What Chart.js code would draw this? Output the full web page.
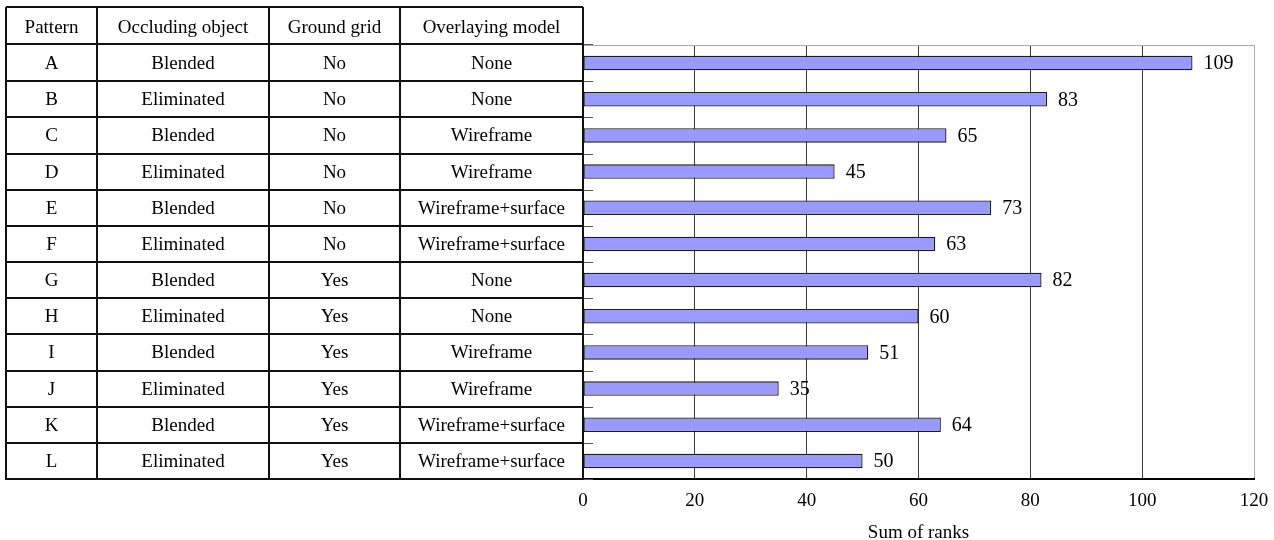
<!DOCTYPE html>
<html>
<head>
<meta charset="utf-8">
<script src="https://cdn.jsdelivr.net/npm/chart.js@4.4.0/dist/chart.umd.min.js"></script>
<style>
body { margin: 0; background: #fff; }
#wrap { width: 1274px; height: 540px; }
</style>
</head>
<body>
<div id="wrap"><canvas id="ranks" width="1274" height="540"></canvas></div>
<script>
// table columns
const headers = ['Pattern', 'Occluding object', 'Ground grid', 'Overlaying model']
const patterns = ['A', 'B', 'C', 'D', 'E', 'F', 'G', 'H', 'I', 'J', 'K', 'L']
const occluding = ['Blended', 'Eliminated', 'Blended', 'Eliminated', 'Blended', 'Eliminated',
    'Blended', 'Eliminated', 'Blended', 'Eliminated', 'Blended', 'Eliminated']
const groundGrid = ['No', 'No', 'No', 'No', 'No', 'No', 'Yes', 'Yes', 'Yes', 'Yes', 'Yes', 'Yes']
const overlaying = ['None', 'None', 'Wireframe', 'Wireframe', 'Wireframe+surface', 'Wireframe+surface',
    'None', 'None', 'Wireframe', 'Wireframe', 'Wireframe+surface', 'Wireframe+surface']

// bar values
const sumOfRanks = [109, 83, 65, 45, 73, 63, 82, 60, 51, 35, 64, 50]
const xMin = 0
const xMax = 120
const xStep = 20
const xTitle = 'Sum of ranks'

const serif = "'Liberation Serif', 'Times New Roman', serif"
Chart.defaults.font.family = serif
Chart.defaults.color = '#000'

// x positions of the table column lines
const colX = [6, 97, 269, 400, 583]
const tableTop = 7

// draws the table on the left and the small ticks on the y axis
const tablePlugin = {
    id: 'table',
    afterDraw(chart) {
        const ctx = chart.ctx
        const area = chart.chartArea
        const y = chart.scales.y
        const n = patterns.length

        // row boundaries from the category scale
        let rows = [area.top - 1]
        for (let i = 0; i < n - 1; i++) {
            rows.push((y.getPixelForValue(i) + y.getPixelForValue(i + 1)) / 2)
        }
        rows.push(area.bottom)

        ctx.save()
        // top border of plot
        ctx.strokeStyle = '#aaa'
        ctx.lineWidth = 1
        ctx.beginPath()
        ctx.moveTo(area.left, area.top + 0.5)
        ctx.lineTo(area.right, area.top + 0.5)
        ctx.stroke()

        // little ticks inside the y axis
        ctx.strokeStyle = '#555'
        ctx.beginPath()
        for (let i = 0; i < rows.length; i++) {
            let ry = Math.round(rows[i]) + 0.5
            ctx.moveTo(area.left, ry)
            ctx.lineTo(area.left + 10, ry)
        }
        ctx.stroke()

        // table lines
        ctx.strokeStyle = '#111'
        ctx.lineWidth = 2
        ctx.beginPath()
        ctx.moveTo(colX[0], tableTop)
        ctx.lineTo(colX[colX.length - 1], tableTop)
        for (let i = 0; i < rows.length; i++) {
            ctx.moveTo(colX[0], Math.round(rows[i]))
            ctx.lineTo(colX[colX.length - 1], Math.round(rows[i]))
        }
        for (let c = 0; c < colX.length; c++) {
            ctx.moveTo(colX[c], tableTop)
            ctx.lineTo(colX[c], area.bottom + 1)
        }
        ctx.stroke()

        // text
        ctx.fillStyle = '#000'
        ctx.font = '19px ' + serif
        ctx.textAlign = 'center'
        ctx.textBaseline = 'middle'
        for (let c = 0; c < headers.length; c++) {
            ctx.fillText(headers[c], (colX[c] + colX[c + 1]) / 2, (tableTop + rows[0]) / 2 + 3)
        }
        const cols = [patterns, occluding, groundGrid, overlaying]
        for (let i = 0; i < n; i++) {
            let cy = y.getPixelForValue(i) + 1
            for (let c = 0; c < cols.length; c++) {
                ctx.fillText(cols[c][i], (colX[c] + colX[c + 1]) / 2, cy)
            }
        }
        ctx.restore()
    }
}

// value labels at the end of the bars
const valuePlugin = {
    id: 'values',
    afterDatasetsDraw(chart) {
        const ctx = chart.ctx
        const meta = chart.getDatasetMeta(0)
        ctx.save()
        ctx.fillStyle = '#000'
        ctx.font = '20px ' + serif
        ctx.textAlign = 'left'
        ctx.textBaseline = 'middle'
        meta.data.forEach(function (bar, i) {
            ctx.fillText(sumOfRanks[i], bar.x + 11, bar.y + 1)
        })
        ctx.restore()
    }
}

const data = {
    labels: patterns,
    datasets: [{
        label: xTitle,
        data: sumOfRanks,
        backgroundColor: '#9999ff',
        borderColor: '#1a1a1a',
        borderWidth: 1.3,
        borderSkipped: false,
        categoryPercentage: 1,
        barPercentage: 0.4
    }]
}

const config = {
    type: 'bar',
    data: data,
    options: {
        indexAxis: 'y',
        responsive: false,
        animation: false,
        layout: { padding: { left: 583, right: 20, top: 45, bottom: 0 } },
        plugins: {
            legend: { display: false },
            tooltip: { enabled: false }
        },
        scales: {
            x: {
                min: xMin,
                max: xMax,
                ticks: { stepSize: xStep, padding: 11, font: { size: 19 } },
                grid: {
                    drawTicks: false,
                    lineWidth: 1,
                    color: function (c) {
                        return c.tick && c.tick.value === xMax ? '#aaa' : '#3a3a3a'
                    }
                },
                border: { color: '#000', width: 2 },
                title: {
                    display: true,
                    text: xTitle,
                    font: { size: 19, lineHeight: 0.7 },
                    padding: 0
                },
                afterFit: function (scale) {
                    scale.height = 61
                    // labels may hang over the edges, the padding takes care of it
                    scale.paddingLeft = 0
                    scale.paddingRight = 0
                }
            },
            y: {
                ticks: { display: false },
                grid: { display: false, drawTicks: false },
                border: { color: '#000', width: 2 },
                afterFit: function (scale) { scale.width = 0 }
            }
        }
    },
    plugins: [tablePlugin, valuePlugin]
}

const chart = new Chart(document.getElementById('ranks'), config)
</script>
</body>
</html>
